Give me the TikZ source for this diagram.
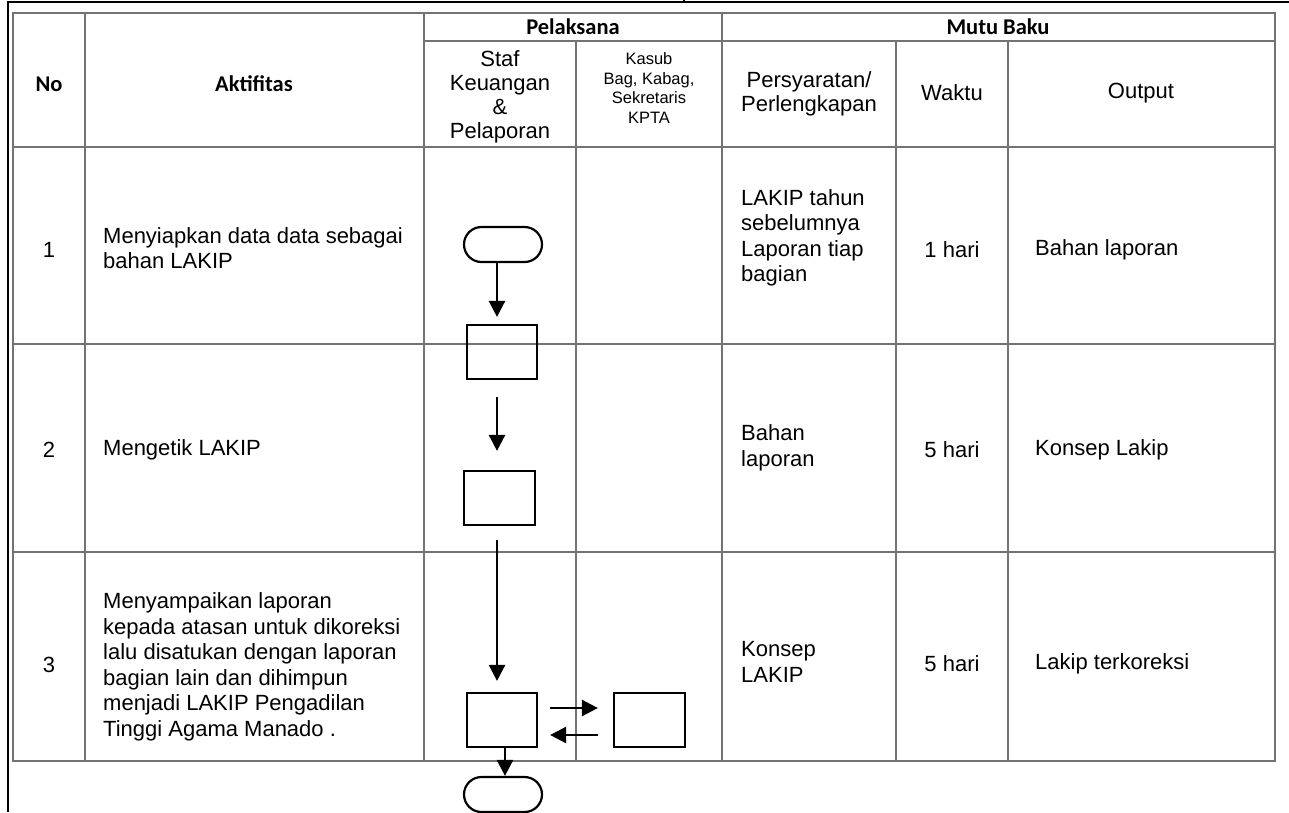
\documentclass[tikz,border=0pt]{standalone}
\usepackage{fontspec}
\setmainfont{Liberation Sans}
\newfontfamily\hdfont{Carlito}
\usetikzlibrary{arrows.meta}
\begin{document}
\begin{tikzpicture}[x=1pt,y=-1pt,
  frameline/.style={draw=black,line width=2pt},
  gridline/.style={draw=black!55,line width=2.4pt},
  head/.style={font=\hdfont\bfseries\fontsize{22.5}{25}\selectfont,inner sep=0pt},
  colhead/.style={font=\fontsize{22}{24}\selectfont,align=center,inner sep=0pt},
  smallhead/.style={font=\fontsize{16.5}{19.5}\selectfont,align=center,inner sep=0pt},
  body/.style={font=\fontsize{22}{25.5}\selectfont,align=left,anchor=west,inner sep=0pt},
  cbody/.style={font=\fontsize{22}{25.5}\selectfont,align=center,inner sep=0pt},
  term/.style={draw,line width=2.2pt,minimum width=78pt,minimum height=35pt,rounded corners=17.5pt,inner sep=0pt},
  procbox/.style={draw,line width=2.2pt,minimum width=70pt,minimum height=54pt,inner sep=0pt},
  arr/.style={line width=2.6pt,-{Triangle[length=16pt,width=16pt]}}]
\useasboundingbox (0,0) rectangle (1289,812);

% page frame
\draw[frameline] (8,812) -- (8,2) -- (1289,2);
\draw[frameline] (684,0) -- (684,3);

% table grid
\draw[gridline] (13,13) rectangle (1275,761);
\draw[gridline] (424,41) -- (1275,41);
\draw[gridline] (13,147) -- (1275,147);
\draw[gridline] (13,344) -- (1275,344);
\draw[gridline] (13,552) -- (1275,552);
\foreach \x in {85,424,722} \draw[gridline] (\x,13) -- (\x,761);
\foreach \x in {576,896,1008} \draw[gridline] (\x,41) -- (\x,761);

% header
\node[head] (hno) at (49,84) {No};
\node[head] (hakt) at (254,84) {Aktifitas};
\node[head] (hpel) at (573,27) {Pelaksana};
\node[head] (hmutu) at (998,27) {Mutu Baku};
\node[colhead] (hstaf) at (500,97) {Staf\\Keuangan\\\&\\Pelaporan};
\node[smallhead] (hkasub) at (649,88) {Kasub\\Bag, Kabag,\\Sekretaris\\KPTA};
\node[colhead] (hsyarat) at (809,94) {Persyaratan/\\Perlengkapan};
\node[colhead] (hwaktu) at (952,93) {Waktu};
\node[colhead] (hout) at (1141,93) {Output};

% row 1
\node[cbody] (no1) at (49,250) {1};
\node[body] (akt1) at (103,248) {Menyiapkan data data sebagai\\bahan LAKIP};
\node[body] (syr1) at (741,238) {LAKIP tahun\\sebelumnya\\Laporan tiap\\bagian};
\node[cbody] (wkt1) at (952,250) {1 hari};
\node[body] (out1) at (1035,250) {Bahan laporan};

% row 2
\node[cbody] (no2) at (49,450) {2};
\node[body] (akt2) at (103,450) {Mengetik LAKIP};
\node[body] (syr2) at (741,448) {Bahan\\laporan};
\node[cbody] (wkt2) at (952,450) {5 hari};
\node[body] (out2) at (1035,450) {Konsep Lakip};

% row 3
\node[cbody] (no3) at (49,665) {3};
\node[body] (akt3) at (103,667) {Menyampaikan laporan\\kepada atasan untuk dikoreksi\\lalu disatukan dengan laporan\\bagian lain dan dihimpun\\menjadi LAKIP Pengadilan\\Tinggi Agama Manado .};
\node[body] (syr3) at (741,662) {Konsep\\LAKIP};
\node[cbody] (wkt3) at (952,664) {5 hari};
\node[body] (out3) at (1035,664) {Lakip terkoreksi};

% flow symbols
\node[term] (t1) at (503,244.5) {};
\node[procbox] (p1) at (502,352) {};
\node[procbox,minimum width=71pt] (p2) at (499.5,498) {};
\node[procbox] (p3) at (502,720) {};
\node[procbox,minimum width=71pt] (p4) at (649.5,720) {};
\node[term] (t2) at (503,794.5) {};

% flow connectors
\draw[arr] ([xshift=-6pt]t1.south) -- ([xshift=-5pt,yshift=7pt]p1.north);
\draw[arr] ([xshift=-5pt,yshift=-17pt]p1.south) -- ([xshift=-2.5pt,yshift=19pt]p2.north);
\draw[arr] ([xshift=-2.5pt,yshift=-14pt]p2.south) -- ([xshift=-5pt,yshift=11pt]p3.north);
\draw[arr] ([xshift=12pt,yshift=12pt]p3.east) -- ([xshift=-15pt,yshift=12pt]p4.west);
\draw[arr] ([xshift=-15pt,yshift=-15pt]p4.west) -- ([xshift=12pt,yshift=-15pt]p3.east);
\draw[arr] ([xshift=3pt]p3.south) -- ([xshift=2pt]t2.north);
\end{tikzpicture}
\end{document}
